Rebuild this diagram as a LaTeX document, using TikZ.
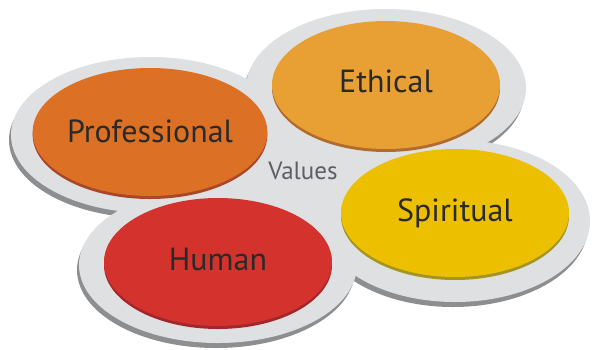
\documentclass[tikz,border=0pt]{standalone}
\usepackage{fontspec}
\setmainfont{PT Sans}
\usetikzlibrary{shapes.geometric,shadows}
\definecolor{blobgray}{HTML}{DFE0E2}
\definecolor{blobshade}{HTML}{8C8E90}
\definecolor{textdark}{HTML}{2A2A2A}
\definecolor{valuegray}{HTML}{5C5F64}
\definecolor{profcol}{HTML}{DC7125}
\definecolor{profrim}{HTML}{A9472A}
\definecolor{ethcol}{HTML}{E8A035}
\definecolor{ethrim}{HTML}{B06C2E}
\definecolor{spircol}{HTML}{ECBF00}
\definecolor{spirrim}{HTML}{A39424}
\definecolor{humcol}{HTML}{D4322C}
\definecolor{humrim}{HTML}{A2262B}
\tikzset{
  valuebox/.style={ellipse, inner sep=0pt, minimum width=228pt, minimum height=128pt,
    text=textdark, font=\fontsize{32}{34}\selectfont},
  rim/.style={drop shadow={shadow xshift=0pt, shadow yshift=-3pt, fill=#1, opacity=1}},
}
\begin{document}
\begin{tikzpicture}[x=1pt,y=-1pt]
  \useasboundingbox (0,0) rectangle (592,349);
  % grey base with its shadow
  \begin{scope}[shift={(-2,5)}]
    \fill[blobshade] (150,135) ellipse [x radius=139pt, y radius=78pt];
    \fill[blobshade] (386,88) ellipse [x radius=140pt, y radius=79pt];
    \fill[blobshade] (455,221) ellipse [x radius=135pt, y radius=81pt];
    \fill[blobshade] (218,265) ellipse [x radius=139pt, y radius=78pt];
  \end{scope}
  \fill[blobgray] (150,135) ellipse [x radius=139pt, y radius=78pt];
  \fill[blobgray] (386,88) ellipse [x radius=140pt, y radius=79pt];
  \fill[blobgray] (455,221) ellipse [x radius=135pt, y radius=81pt];
  \fill[blobgray] (218,265) ellipse [x radius=139pt, y radius=78pt];
  \fill[blobgray] (303,175) ellipse [x radius=120pt, y radius=80pt];
  % the four values
  \node[valuebox, fill=profcol, rim=profrim] (prof) at (150,132) {\raisebox{1pt}{Professional}};
  \node[valuebox, fill=ethcol, rim=ethrim] (eth) at (386,85) {\raisebox{7pt}{Ethical}};
  \node[valuebox, fill=spircol, rim=spirrim] (spir) at (455,213) {\raisebox{4pt}{Spiritual}};
  \node[valuebox, fill=humcol, rim=humrim] (hum) at (218,262) {\raisebox{5pt}{Human}};
  \node[text=valuegray, font=\fontsize{25}{27}\selectfont] (values) at (303,171) {Values};
\end{tikzpicture}
\end{document}
